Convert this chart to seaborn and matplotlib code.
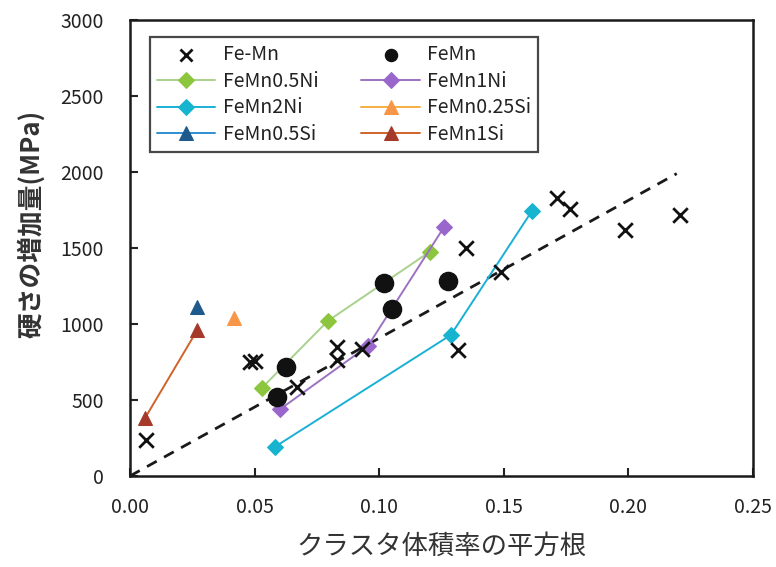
import pandas as pd
import matplotlib
matplotlib.use("Agg")
import matplotlib.pyplot as plt
import seaborn as sns

# Fe-Mn (x), FeMn (circles)
femn_x_x = [0.0065, 0.048, 0.050, 0.0672, 0.0832, 0.0832, 0.0931, 0.1317, 0.1347, 0.149, 0.1713, 0.1767, 0.1989, 0.2209]
femn_x_y = [237, 750, 760, 583, 851, 763, 833, 829, 1498, 1344, 1827, 1754, 1618, 1717]

femn_c_x = [0.059, 0.0625, 0.1018, 0.1051, 0.1277]
femn_c_y = [522, 719, 1268, 1096, 1283]

ni05_x = [0.0528, 0.0794, 0.1204]
ni05_y = [577, 1020, 1476]

ni1_x = [0.0603, 0.0955, 0.126]
ni1_y = [440, 855, 1636]

ni2_x = [0.0583, 0.1288, 0.1614]
ni2_y = [193, 928, 1745]

si025_x = [0.0419]
si025_y = [1037]

si05_x = [0.027]
si05_y = [1110]

si1_x = [0.006, 0.027]
si1_y = [380, 960]

# 破線（傾向線）
trend_x = [0.0, 0.2195]
trend_y = [0, 1990]

sns.set_style("ticks")
plt.rcParams["font.family"] = ["Noto Sans CJK JP", "DejaVu Sans"]

fig = plt.figure(figsize=(7.76, 5.67), dpi=100)
ax = fig.add_axes([0.1675, 0.1605, 0.8025, 0.804])

sns.lineplot(x=trend_x, y=trend_y, ax=ax, color="#1a1a1a", linestyle=(0, (4, 3)), lw=2, zorder=1)

sns.scatterplot(x=femn_x_x, y=femn_x_y, ax=ax, marker="x", s=110, color="#111111",
                linewidth=2, label="Fe-Mn", zorder=3)
sns.scatterplot(x=femn_c_x, y=femn_c_y, ax=ax, marker="o", s=170, color="#111111",
                edgecolor="#111111", label="FeMn", zorder=3)

series = [
    (ni05_x, ni05_y, "FeMn0.5Ni", "#a9d18e", "#8cc63f", "D"),
    (ni1_x, ni1_y, "FeMn1Ni", "#9b72c2", "#9966cc", "D"),
    (ni2_x, ni2_y, "FeMn2Ni", "#1ab0d6", "#17b4cf", "D"),
    (si025_x, si025_y, "FeMn0.25Si", "#f5b041", "#f79646", "^"),
    (si05_x, si05_y, "FeMn0.5Si", "#2e90d0", "#1f5a8c", "^"),
    (si1_x, si1_y, "FeMn1Si", "#d0622a", "#a5392a", "^"),
]
for xs, ys, name, lc, mc, mk in series:
    df = pd.DataFrame({"x": xs, "y": ys})
    ms = 8 if mk == "D" else 10
    sns.lineplot(data=df, x="x", y="y", ax=ax, sort=False, estimator=None,
                 color=lc, lw=1.4, marker=mk, markersize=ms,
                 markerfacecolor=mc, markeredgecolor=mc, label=name, zorder=2)

ax.set_xlim(0, 0.25)
ax.set_ylim(0, 3000)
ax.set_xticks([0, 0.05, 0.10, 0.15, 0.20, 0.25])
ax.set_xticklabels(["0.00", "0.05", "0.10", "0.15", "0.20", "0.25"])
ax.set_yticks(range(0, 3001, 500))
ax.tick_params(direction="in", length=6, width=1.5, labelsize=14, colors="#222222")
ax.tick_params(axis="y", pad=19)
ax.tick_params(axis="x", pad=15)
for sp in ax.spines.values():
    sp.set_visible(True)
    sp.set_linewidth(1.8)
    sp.set_color("#1a1a1a")

ax.set_xlabel("クラスタ体積率の平方根", fontsize=19, color="#333333", labelpad=11)
ax.set_ylabel("硬さの増加量(MPa)", fontsize=18.5, fontweight="bold", color="#333333")
ax.yaxis.set_label_coords(-0.136, 0.553)

# 凡例は行ごとに並べる
handles, labels = ax.get_legend_handles_labels()
order = ["Fe-Mn", "FeMn0.5Ni", "FeMn2Ni", "FeMn0.5Si", "FeMn", "FeMn1Ni", "FeMn0.25Si", "FeMn1Si"]
hmap = dict(zip(labels, handles))
leg = ax.legend([hmap[k] for k in order], order, loc="upper left", bbox_to_anchor=(0.032, 0.963),
                ncol=2, fontsize=14, frameon=True, fancybox=False, edgecolor="#1a1a1a",
                handlelength=3.0, handletextpad=0.4, columnspacing=2.2, labelspacing=0.3,
                borderpad=0.35, borderaxespad=0)
leg.get_frame().set_linewidth(1.6)
for t in leg.get_texts():
    t.set_color("#222222")
for h in leg.legend_handles:
    if hasattr(h, "set_sizes"):
        h.set_sizes([75])

fig.savefig("out.png", dpi=100)
